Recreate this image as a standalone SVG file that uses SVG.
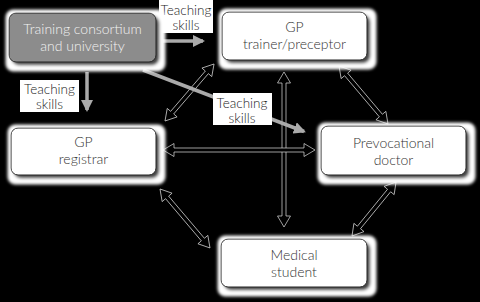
<svg xmlns="http://www.w3.org/2000/svg" width="480" height="302" viewBox="0 0 480 302">
<defs>
<filter id="halo" x="-20%" y="-40%" width="140%" height="180%">
 <feMorphology in="SourceAlpha" operator="dilate" radius="6" result="d"/>
 <feOffset in="d" dx="3" dy="3" result="do"/>
 <feGaussianBlur in="do" stdDeviation="1.5" result="db"/>
 <feFlood flood-color="#ffffff"/>
 <feComposite in2="db" operator="in" result="white"/>
 <feOffset in="SourceAlpha" dx="3" dy="3" result="so"/>
 <feGaussianBlur in="so" stdDeviation="1.6" result="sb"/>
 <feFlood flood-color="#444"/>
 <feComposite in2="sb" operator="in" result="shadow"/>
 <feMerge><feMergeNode in="white"/><feMergeNode in="shadow"/><feMergeNode in="SourceGraphic"/></feMerge>
</filter>
<marker id="gh" viewBox="0 0 12 12" refX="10" refY="6" markerWidth="12" markerHeight="12" markerUnits="userSpaceOnUse" orient="auto">
 <path d="M0,0 L12,6 L0,12 z" fill="#aaaaaa"/>
</marker>
</defs>
<style>
.box{fill:#fff;stroke:#222;stroke-width:1}
.gbox{fill:#8c8c8c;stroke:#222;stroke-width:1}
.t{font-family:Lato,"Noto Sans",sans-serif;font-weight:300;font-size:14px;fill:#333;text-anchor:middle}
.tw{fill:#f2f2f2}
.lt{font-family:Lato,"Noto Sans",sans-serif;font-weight:300;font-size:13.5px;fill:#222;text-anchor:middle}
.lbl{fill:#fff}
.dbl{fill:#000;stroke:#e0e0e0;stroke-width:0.7;stroke-linejoin:miter}
.ga{stroke:#aaaaaa;stroke-width:3.5;fill:none}
</style>
<rect width="480" height="302" fill="#000"/>

<g id="connectors">
 <polygon class="dbl" transform="translate(165,121) rotate(-49.3)" points="0,0 11,-6.5 11,-2 64.2,-2 64.2,-6.5 75.2,0 64.2,6.5 64.2,2 11,2 11,6.5"/>
 <polygon class="dbl" transform="translate(339,66) rotate(49.8)" points="0,0 11,-6.5 11,-2 64.9,-2 64.9,-6.5 75.9,0 64.9,6.5 64.9,2 11,2 11,6.5"/>
 <polygon class="dbl" transform="translate(352,236) rotate(-50.8)" points="0,0 11,-6.5 11,-2 58.7,-2 58.7,-6.5 69.7,0 58.7,6.5 58.7,2 11,2 11,6.5"/>
 <polygon class="dbl" transform="translate(160,189) rotate(49.7)" points="0,0 11,-6.5 11,-2 66.3,-2 66.3,-6.5 77.3,0 66.3,6.5 66.3,2 11,2 11,6.5"/>
 <polygon class="dbl" transform="translate(284,72) rotate(90)" points="0,0 11,-6.5 11,-2 144,-2 144,-6.5 155,0 144,6.5 144,2 11,2 11,6.5"/>
 <polygon class="dbl" transform="translate(163,150)" points="0,0 11,-6.5 11,-2 141,-2 141,-6.5 152,0 141,6.5 141,2 11,2 11,6.5"/>

 <line class="ga" x1="163" y1="41" x2="203" y2="41" marker-end="url(#gh)"/>
 <line class="ga" x1="87" y1="72" x2="87" y2="110" marker-end="url(#gh)"/>
 <line class="ga" x1="143" y1="70" x2="304" y2="131.5" marker-end="url(#gh)"/>

 <g id="label-top">
  <rect class="lbl" x="159" y="0" width="54" height="33"/>
  <text class="lt" x="186" y="14.5">Teaching</text>
  <text class="lt" x="186" y="29.5">skills</text>
 </g>
 <g id="label-left">
  <rect class="lbl" x="20" y="80" width="59" height="32"/>
  <text class="lt" x="49.5" y="94">Teaching</text>
  <text class="lt" x="49.5" y="109">skills</text>
 </g>
 <g id="label-mid">
  <rect class="lbl" x="213" y="93" width="59" height="32"/>
  <text class="lt" x="242" y="107.5">Teaching</text>
  <text class="lt" x="242" y="122.5">skills</text>
 </g>
</g>

<g id="training">
 <rect class="gbox" x="9" y="13" width="147" height="49" rx="7" filter="url(#halo)"/>
 <text class="t tw" x="82.5" y="34">Training consortium</text>
 <text class="t tw" x="82.5" y="51">and university</text>
</g>
<g id="gp-trainer">
 <rect class="box" x="222" y="12" width="145" height="48" rx="7" filter="url(#halo)"/>
 <text class="t" x="294.5" y="32">GP</text>
 <text class="t" x="294.5" y="49">trainer/preceptor</text>
</g>
<g id="gp-registrar">
 <rect class="box" x="11" y="128" width="145" height="47" rx="7" filter="url(#halo)"/>
 <text class="t" x="83.5" y="147">GP</text>
 <text class="t" x="83.5" y="164">registrar</text>
</g>
<g id="prevocational">
 <rect class="box" x="321" y="126" width="145" height="49" rx="7" filter="url(#halo)"/>
 <text class="t" x="393.5" y="147.5">Prevocational</text>
 <text class="t" x="393.5" y="164.5">doctor</text>
</g>
<g id="medical-student">
 <rect class="box" x="221" y="239" width="146" height="48" rx="7" filter="url(#halo)"/>
 <text class="t" x="294" y="260">Medical</text>
 <text class="t" x="294" y="277">student</text>
</g>
</svg>
